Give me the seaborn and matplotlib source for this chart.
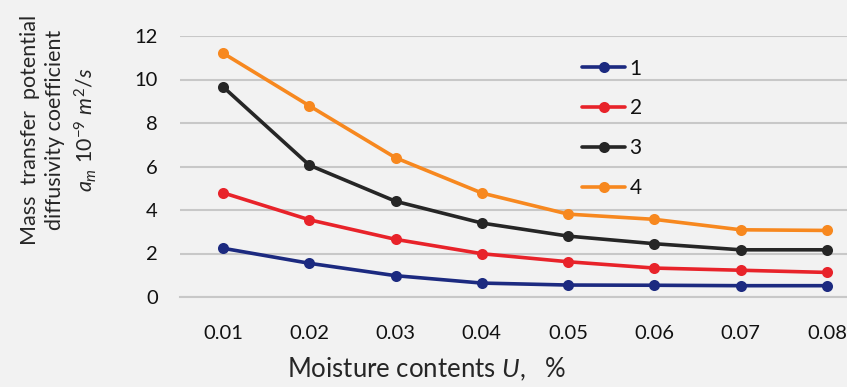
import pandas as pd
import matplotlib
matplotlib.use("Agg")
from matplotlib import pyplot as plt
from matplotlib.ticker import FixedLocator
import seaborn as sns

moisture = ["0.01", "0.02", "0.03", "0.04", "0.05", "0.06", "0.07", "0.08"]
series_names = ["1", "2", "3", "4"]
s1 = [2.24, 1.55, 0.98, 0.64, 0.55, 0.54, 0.52, 0.52]
s2 = [4.79, 3.55, 2.65, 1.99, 1.62, 1.33, 1.23, 1.13]
s3 = [9.66, 6.06, 4.40, 3.40, 2.80, 2.45, 2.17, 2.17]
s4 = [11.21, 8.79, 6.40, 4.78, 3.81, 3.57, 3.09, 3.06]
colors = ["#1c2a80", "#e8232a", "#262626", "#f7881f"]

rows = []
for name, vals in zip(series_names, [s1, s2, s3, s4]):
    for u, v in zip(moisture, vals):
        rows.append({"U": u, "am": v, "series": name})
df = pd.DataFrame(rows)

sns.set_style("white")
plt.rcParams["font.family"] = ["Lato", "DejaVu Sans"]
plt.rcParams["mathtext.fontset"] = "custom"
plt.rcParams["mathtext.it"] = "Lato:italic"
plt.rcParams["mathtext.rm"] = "Lato"
plt.rcParams["text.color"] = "#111111"

bg = "#f2f2f2"
fig = plt.figure(figsize=(8.47, 3.87), dpi=100, facecolor=bg)
ax = fig.add_axes([180 / 847, 90 / 387, 690 / 847, 261 / 387], facecolor=bg)

sns.pointplot(data=df, x="U", y="am", hue="series", order=moisture,
              hue_order=series_names, palette=colors, markers="o",
              markersize=6, linewidth=2.6, ax=ax, errorbar=None)
for ln in ax.lines:
    ln.set_clip_on(False)

ax.set_xlim(-0.5, 7.5)
ax.set_ylim(0, 12)
ax.set_yticks(range(0, 13, 2))
ax.grid(axis="y", color="#c8c8c8", linewidth=1.5)
ax.set_axisbelow(True)
for side in ["top", "right", "left"]:
    ax.spines[side].set_visible(False)
ax.spines["bottom"].set_color("#c8c8c8")
ax.spines["bottom"].set_linewidth(1.5)

ax.xaxis.set_minor_locator(FixedLocator([i - 0.5 for i in range(9)]))
ax.tick_params(axis="x", which="major", length=0, pad=20, labelsize=14.5,
               labelcolor="#111111")
ax.tick_params(axis="x", which="minor", length=6, width=1.3, color="#c8c8c8")
ax.tick_params(axis="y", length=0, pad=16, labelsize=14.5, labelcolor="#111111")

ax.set_xlabel("Moisture contents $U$,   %", fontsize=18.5)
ax.xaxis.set_label_coords(0.358, -0.225)
ax.set_ylabel("Mass  transfer  potential\ndiffusivity coefficient\n$a_m\\ 10^{-9}\\ m^2/s$",
              fontsize=15.5, linespacing=1.32)
ax.yaxis.set_label_coords(-0.118, 0.64)

leg = ax.legend(loc="upper left", bbox_to_anchor=(0.555, 0.985), frameon=False,
                fontsize=15, labelspacing=0.95, handlelength=2.1, handletextpad=0.2,
                title=None)

fig.savefig("out.png", dpi=100, facecolor=bg)
